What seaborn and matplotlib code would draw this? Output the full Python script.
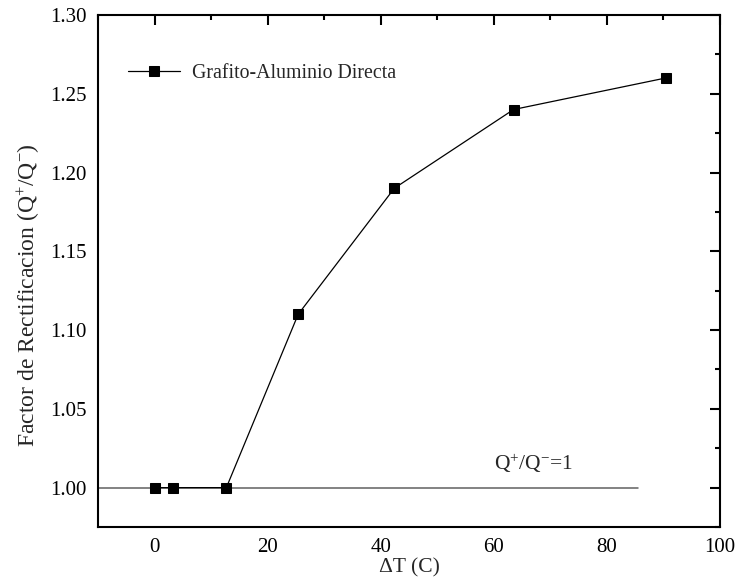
import matplotlib
matplotlib.use("Agg")
import matplotlib.pyplot as plt
import seaborn as sns
import pandas as pd
from matplotlib.ticker import MultipleLocator

delta_t = [0.0, 3.2, 12.7, 25.4, 42.4, 63.5, 90.4]
factor = [1.00, 1.00, 1.00, 1.11, 1.19, 1.24, 1.26]
series_name = "Grafito-Aluminio Directa"
ref_x = [-10, 85.5]
ref_y = [1.0, 1.0]

sns.set_style("white")
plt.rcParams["font.family"] = ["Liberation Serif", "DejaVu Serif"]
plt.rcParams["mathtext.fontset"] = "custom"
plt.rcParams["mathtext.rm"] = "Liberation Serif"
plt.rcParams["mathtext.it"] = "Liberation Serif"

df = pd.DataFrame({"dT": delta_t, "F": factor, "s": series_name})

fig = plt.figure(figsize=(7.38, 5.85), dpi=100)
ax = fig.add_axes([0.1328, 0.0991, 0.8428, 0.8753])

ax.plot(ref_x, ref_y, color="#606060", lw=1.1, zorder=1)
sns.lineplot(data=df, x="dT", y="F", hue="s", palette=["black"], marker="s",
             markersize=7.5, markeredgecolor="black", lw=0.9, ax=ax, zorder=3)

ax.set_xlim(-10, 100)
ax.set_ylim(0.975, 1.30)
ax.xaxis.set_major_locator(MultipleLocator(20))
ax.xaxis.set_minor_locator(MultipleLocator(10))
ax.yaxis.set_major_locator(MultipleLocator(0.05))
ax.yaxis.set_minor_locator(MultipleLocator(0.025))
ax.yaxis.set_major_formatter(matplotlib.ticker.FormatStrFormatter("%.2f"))
ax.tick_params(which="both", direction="in", top=True, right=True, width=1.5,
               labelsize=15, colors="black", pad=8)
ax.tick_params(which="major", length=7)
ax.tick_params(which="minor", length=3.5)
for sp in ax.spines.values():
    sp.set_linewidth(1.5)
    sp.set_color("black")

ax.set_xlabel("ΔT (C)", fontsize=15.5, labelpad=1)
ax.set_ylabel("Factor de Rectificacion (Q$^{+}$/Q$^{-}$)", fontsize=17, labelpad=6, y=0.453)

ax.text(67, 1.008, "Q$^{+}$/Q$^{-}$=1", fontsize=15.5, ha="center", va="bottom")

leg = ax.legend(loc="upper left", bbox_to_anchor=(0.02, 0.94), frameon=False,
                fontsize=14.3, handlelength=2.6, handletextpad=0.6)
for h in leg.legend_handles:
    h.set_color("black")

fig.savefig("out.png", dpi=100)
